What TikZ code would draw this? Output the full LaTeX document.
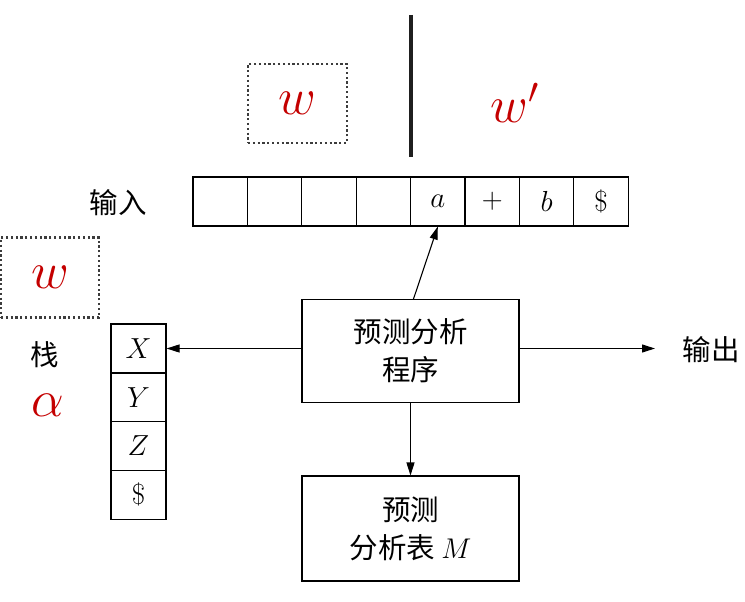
\RequirePackage{fix-cm}
\documentclass[tikz,border=0pt]{standalone}
\usepackage{fontspec}
\newfontfamily\cjk{Noto Sans CJK SC}
\usetikzlibrary{arrows.meta}
\definecolor{wred}{RGB}{196,0,0}
\definecolor{dotgray}{RGB}{60,60,60}
\tikzset{
  cell/.style={draw, line width=1.1pt, minimum width=54.4pt, minimum height=49pt, inner sep=0pt, font=\fontsize{29}{32}\selectfont},
  scell/.style={draw, line width=1.1pt, minimum width=55pt, minimum height=49pt, inner sep=0pt, font=\fontsize{29}{32}\selectfont},
  bigbox/.style={draw, line width=1.1pt, minimum width=217pt, minimum height=103pt, inner sep=0pt, align=center, font=\cjk\fontsize{28.5}{38}\selectfont},
  cjklabel/.style={inner sep=0pt, font=\cjk\fontsize{28.5}{32}\selectfont},
  bigw/.style={inner sep=0pt, text=wred, font=\fontsize{52}{56}\selectfont},
  dotbox/.style={draw=dotgray, line width=2.2pt, dash pattern=on 2.2pt off 2.6pt},
  arr/.style={line width=1.1pt, -{Triangle[length=13pt,width=8pt]}}
}
\begin{document}
\begin{tikzpicture}[x=1pt,y=-1pt]
\useasboundingbox (0,0) rectangle (745,602);
% tape
\foreach \i/\t in {1/{},2/{},3/{},4/{},5/{$a$},6/{$+$},7/{$b$},8/{\$}} {
  \node[cell] (t\i) at ({193+54.4*(\i-0.5)},201.5) {\t};
}
\node[cjklabel] (inlbl) at (118,203) {输入};
% dotted box top with w
\node[dotbox, minimum width=99pt, minimum height=79pt, inner sep=0pt] (wbox) at (297.5,103.5) {};
\node[bigw] (w1) at (wbox.center) {$w$};
% divider
\coordinate (divtop) at (410.5,15);
\coordinate (divbot) at (410.5,157);
\draw[line width=4pt, color=black!88] (divtop) -- (divbot);
\node[bigw] (w2) at (515,103) {$w'$};
% left dotted box
\node[dotbox, minimum width=98pt, minimum height=80pt, inner sep=0pt] (wbox2) at (50,277.5) {};
\node[bigw] (w3) at (wbox2.center) {$w$};
\node[cjklabel] (stlbl) at (45,355) {栈};
\node[bigw] (alpha) at (48,405) {$\alpha$};
% stack
\foreach \i/\t in {1/X,2/Y,3/Z} {
  \node[scell] (s\i) at (138.5,{348.5+48.7*(\i-1)}) {$\t$};
}
\node[scell] (s4) at (138.5,{348.5+48.7*3}) {\$};
% program and table
\node[bigbox] (prog) at (410.5,351) {预测分析\\程序};
\node[bigbox, minimum height=105pt] (tab) at (410.5,528.5) {预测\\分析表 $M$};
% arrows
\draw[arr] (prog.west |- s1.east) -- (s1.east);
\coordinate (out) at (655,348.5);
\draw[arr] (prog.east |- out) -- (out);
\node[cjklabel] (outlbl) at (711,350) {输出};
\draw[arr] ([xshift=3pt]prog.north) -- (t5.south);
\draw[arr] (prog.south) -- (tab.north);
\end{tikzpicture}
\end{document}
